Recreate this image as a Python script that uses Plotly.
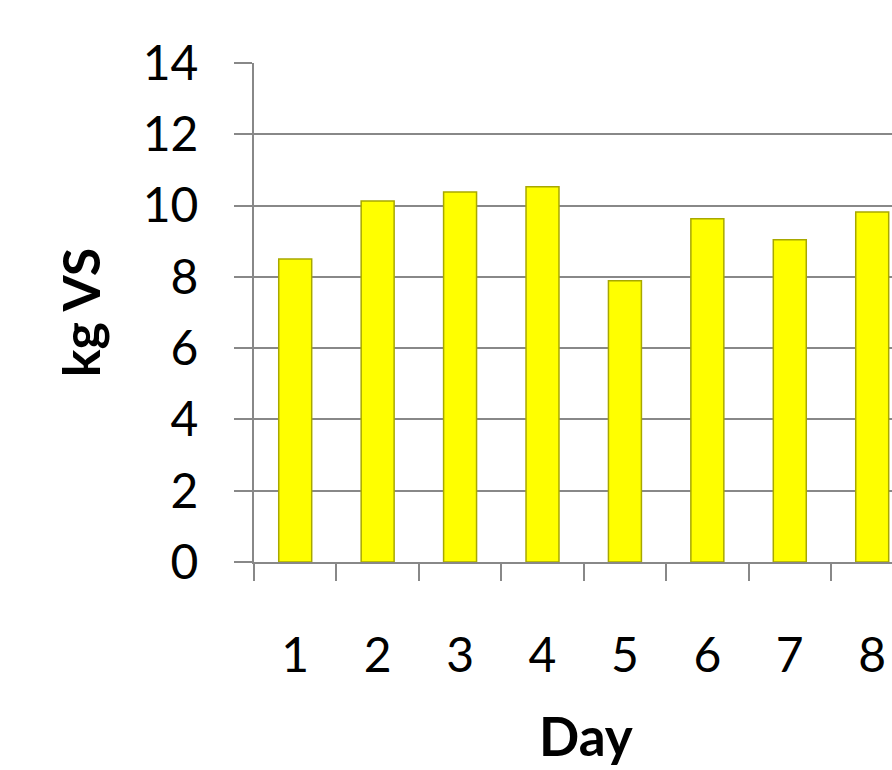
import plotly.graph_objects as go

days = ["1", "2", "3", "4", "5", "6", "7", "8"]
kg_vs = [8.50, 10.13, 10.38, 10.53, 7.89, 9.63, 9.04, 9.82]
y_ticks = [0, 2, 4, 6, 8, 10, 12, 14]

FONT = "Lato"
GRID = "#888888"

fig = go.Figure()
fig.add_trace(go.Bar(
    x=days,
    y=kg_vs,
    width=0.4,
    marker=dict(color="#ffff00", line=dict(color="#a8a800", width=1.5)),
))

fig.update_layout(
    width=892,
    height=770,
    margin=dict(l=254, r=0, t=63, b=208),
    paper_bgcolor="white",
    plot_bgcolor="white",
    showlegend=False,
    font=dict(family=FONT, color="black"),
)

fig.update_xaxes(
    type="category",
    range=[-0.5, 7.24],
    tickson="boundaries",
    ticks="outside",
    ticklen=17,
    tickwidth=2,
    tickcolor=GRID,
    showline=True,
    linecolor=GRID,
    linewidth=2,
    showgrid=False,
    tickfont=dict(size=48, family=FONT),
    ticklabelstandoff=50,
)

# x-axis title placed as an annotation, centred under the full chart width
fig.add_annotation(
    text="<b>Day</b>",
    xref="paper", yref="paper",
    x=0.52, y=0,
    xanchor="center", yanchor="bottom",
    yshift=-206,
    borderpad=0,
    showarrow=False,
    font=dict(size=53, family=FONT, color="black"),
)

fig.update_yaxes(
    range=[0, 14],
    tickvals=y_ticks,
    ticks="outside",
    ticklen=18,
    tickwidth=2,
    tickcolor=GRID,
    showline=True,
    linecolor=GRID,
    linewidth=2,
    showgrid=True,
    gridcolor=GRID,
    gridwidth=2,
    zeroline=False,
    tickfont=dict(size=48, family=FONT),
    ticklabelstandoff=26,
    title=dict(text="<b>kg VS</b>", font=dict(size=52, family=FONT), standoff=26),
)

fig.write_html("out.html")
